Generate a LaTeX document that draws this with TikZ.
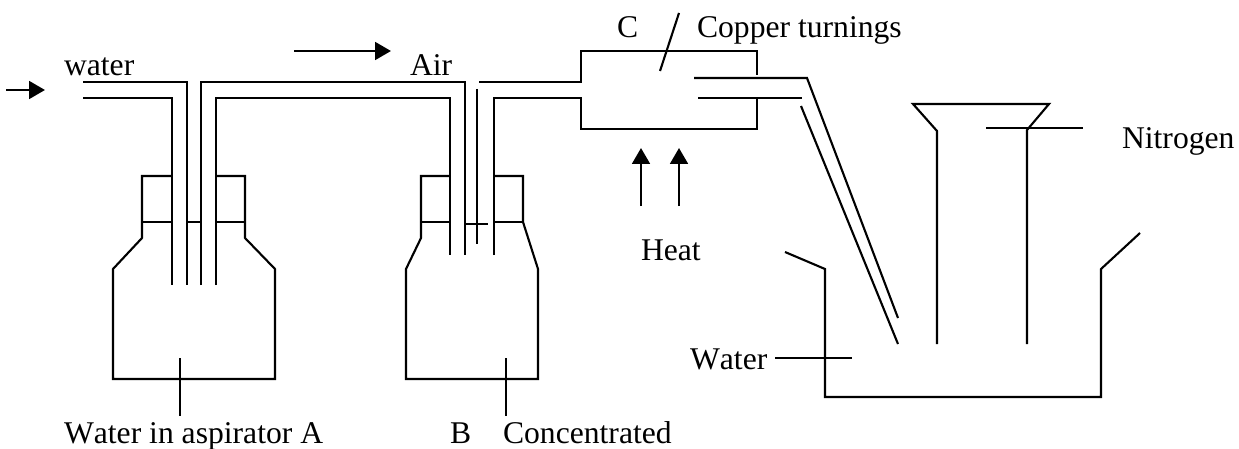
\documentclass[tikz,border=0pt]{standalone}
\usepackage{fontspec}
\setmainfont[Kerning=Off]{Liberation Serif}
\usetikzlibrary{arrows.meta}

\tikzset{
  labeltext/.style={anchor=base west, inner sep=0pt, font=\fontsize{18}{20}\selectfont},
  flowarrow/.style={line width=1.5pt, -{Triangle[length=9pt,width=10pt]}}
}

\begin{document}
\begin{tikzpicture}[x=0.02cm,y=-0.02cm,line width=1.2pt]
  \useasboundingbox (0,0) rectangle (1239,449);

  % labels
  \node[labeltext] (waterin) at (63,76) {water};
  \node[labeltext] (air) at (409,76) {Air};
  \node[labeltext] (tubec) at (616,38) {C};
  \node[labeltext] (copper) at (696,38) {Copper turnings};
  \node[labeltext] (heat) at (640,260) {Heat};
  \node[labeltext] (nitrogen) at (1121,149) {Nitrogen};
  \node[labeltext] (waterbath) at (689,369) {Water};
  \node[labeltext] (aspirator) at (63,443) {Water in aspirator A};
  \node[labeltext] (bottleb) at (449,443) {B};
  \node[labeltext] (concentrated) at (502,443) {Concentrated};

  % flow and heat arrows
  \draw[flowarrow] (6,90) -- (45,90);
  \draw[flowarrow] (294,51) -- (391,51);
  \draw[flowarrow] (641,206) -- (641,148);
  \draw[flowarrow] (679,206) -- (679,148);

  % aspirator A
  \draw (172,176) -- (142,176) -- (142,238) -- (113,269) -- (113,379)
    -- (275,379) -- (275,269) -- (245,238) -- (245,176) -- (216,176);
  \draw (142,222) -- (172,222);
  \draw (187,222) -- (201,222);
  \draw (216,222) -- (245,222);
  \draw (83,82) -- (187,82) -- (187,285);
  \draw (83,98) -- (172,98) -- (172,285);
  \draw (201,285) -- (201,82) -- (465,82) -- (465,255);
  \draw (216,285) -- (216,98) -- (450,98) -- (450,255);
  \draw (180,358) -- (180,416);

  % bottle B
  \draw (450,176) -- (421,176) -- (421,238) -- (406,269) -- (406,379)
    -- (538,379) -- (538,269) -- (523,222) -- (523,176) -- (494,176);
  \draw (421,222) -- (450,222);
  \draw (465,224) -- (488,224);
  \draw (494,222) -- (523,222);
  \draw (477,89) -- (477,244);
  \draw (506,358) -- (506,416);

  % tube C
  \draw (479,82) -- (581,82) -- (581,51) -- (757,51) -- (757,75);
  \draw (494,255) -- (494,98) -- (581,98) -- (581,129) -- (757,129) -- (757,98);
  \draw (679,13) -- (660,71);
  \draw (694,78) -- (807,78) -- (898,318);
  \draw (698,98) -- (802,98);
  \draw (801,106) -- (898,344);

  % trough and collecting jar
  \draw (785,252) -- (825,269) -- (825,397) -- (1101,397) -- (1101,269) -- (1140,233);
  \draw (937,344) -- (937,131) -- (913,104) -- (1049,104) -- (1027,130) -- (1027,344);
  \draw (986,128) -- (1083,128);
  \draw (775,358) -- (852,358);
\end{tikzpicture}
\end{document}
